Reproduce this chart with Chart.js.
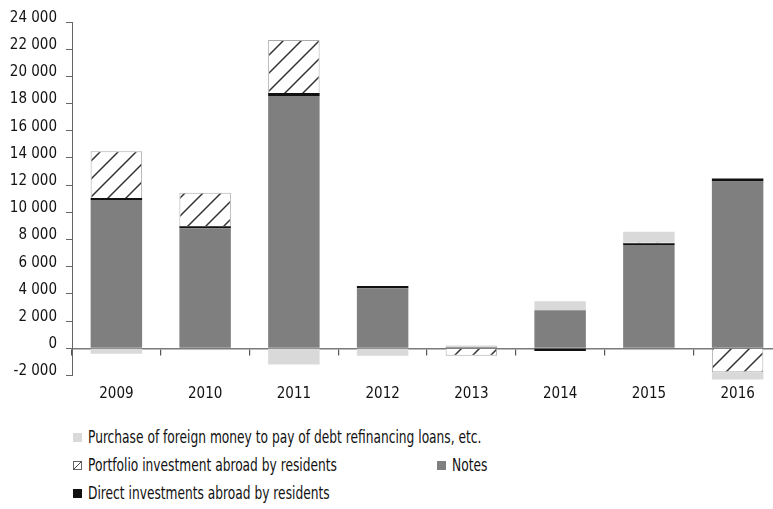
<!DOCTYPE html>
<html>
<head>
<meta charset="utf-8">
<script src="https://cdn.jsdelivr.net/npm/chart.js@4.4.1/dist/chart.umd.min.js"></script>
<style>
  html, body { margin: 0; padding: 0; background: #fff; overflow: hidden; }
  body {
    width: 773px; height: 509px; position: relative;
    font-family: 'DejaVu Sans Condensed', 'Liberation Sans Narrow', sans-serif;
    color: #111;
  }
  #chart { position: absolute; left: 0; top: 0; }
  #legend {
    position: absolute; left: 73px; top: 427px;
    display: grid; grid-template-columns: 364px auto; row-gap: 8px;
    font-size: 17px;
  }
  .item { display: flex; align-items: center; white-space: nowrap; height: 20px; }
  .item.wide { grid-column: 1 / span 2; }
  .swatch { width: 9px; height: 9px; margin-right: 6px; flex: none; }
  .item .txt { display: inline-block; transform: scaleX(0.8); transform-origin: left center; }
</style>
</head>
<body>
<canvas id="chart" width="790" height="420"></canvas>
<div id="legend"></div>

<script>
const years = ['2009', '2010', '2011', '2012', '2013', '2014', '2015', '2016'];
const notes = [10900, 8830, 18550, 4420, 100, 2800, 7600, 12270];
const direct = [150, 150, 230, 170, 0, -200, 130, 220];
const portfolio = [3450, 2460, 3900, 0, -540, 0, 60, -1770];
const purchase = [-400, 0, -1200, -540, 100, 660, 780, -530];

const yMin = -2000;
const yMax = 24000;
const yStep = 2000;

const FONT = "'DejaVu Sans Condensed', 'Liberation Sans Narrow', sans-serif";

const canvas = document.getElementById('chart');
const ctx = canvas.getContext('2d');

// white tile with one diagonal stroke, repeated for the portfolio bars
function makeHatch() {
    const size = 18;
    const tile = document.createElement('canvas');
    tile.width = size;
    tile.height = size;
    const g = tile.getContext('2d');
    g.fillStyle = '#fff';
    g.fillRect(0, 0, size, size);
    g.strokeStyle = '#333';
    g.lineWidth = 1.5;
    g.beginPath();
    g.moveTo(-2, size + 2); g.lineTo(size + 2, -2);
    g.moveTo(-2, 2); g.lineTo(2, -2);
    g.moveTo(size - 2, size + 2); g.lineTo(size + 2, size - 2);
    g.stroke();
    return ctx.createPattern(tile, 'repeat');
}

function fmt(v) {
    const s = Math.abs(v).toString().replace(/\B(?=(\d{3})+(?!\d))/g, ' ');
    return (v < 0 ? '-' : '') + s;
}

const series = [
    { key: 'notes', label: 'Notes', data: notes, color: '#7f7f7f' },
    { key: 'direct', label: 'Direct investments abroad by residents', data: direct, color: '#111' },
    { key: 'portfolio', label: 'Portfolio investment abroad by residents', data: portfolio, color: makeHatch(), border: '#aaa' },
    { key: 'purchase', label: 'Purchase of foreign money to pay of debt refinancing loans, etc.', data: purchase, color: '#d9d9d9' }
];

new Chart(ctx, {
    type: 'bar',
    data: {
        labels: years,
        datasets: series.map(s => ({
            label: s.label,
            data: s.data,
            backgroundColor: s.color,
            borderColor: s.border || s.color,
            borderWidth: s.border ? 1 : 0,
            barPercentage: 0.58,
            categoryPercentage: 1,
            clip: false   // 2016 runs a little past the -2 000 line
        }))
    },
    options: {
        responsive: false,
        animation: false,
        layout: { padding: { top: 22, right: 8, left: 0, bottom: 0 } },
        plugins: {
            legend: { display: false },
            tooltip: { enabled: false }
        },
        scales: {
            x: {
                stacked: true,
                offset: true,
                grid: { display: false },
                border: { display: false },
                ticks: { color: '#111', padding: 2, font: { family: FONT, size: 15 } },
                afterFit: s => { s.height = 44.5; }
            },
            // zero line with the short category ticks hanging below it
            xZero: {
                axis: 'x',
                type: 'category',
                labels: years,
                position: { y: 0 },
                offset: true,
                z: 1,
                grid: { offset: true, drawOnChartArea: false, drawTicks: true, tickLength: 6, color: '#555', lineWidth: 1.2 },
                border: { color: '#7a7a7a', width: 1.5 },
                ticks: { display: false }
            },
            y: {
                stacked: true,
                min: yMin,
                max: yMax,
                grid: { drawOnChartArea: false, drawTicks: true, tickLength: 6, color: '#666' },
                border: { color: '#666' },
                ticks: {
                    stepSize: yStep,
                    padding: 9,
                    color: '#111',
                    // the empty second line lifts each label a few px above its tick
                    font: { family: FONT, size: 15, lineHeight: '8px' },
                    callback: v => [fmt(v), '']
                },
                afterFit: s => { s.width = 72; }
            }
        }
    }
});

// legend: purchase on its own row, portfolio and notes side by side, direct last
const legendRows = [['purchase'], ['portfolio', 'notes'], ['direct']];
const legend = document.getElementById('legend');
legendRows.forEach(row => {
    row.forEach(key => {
        const s = series.find(d => d.key === key);
        const item = document.createElement('div');
        item.className = 'item' + (key === 'purchase' ? ' wide' : '');
        let sw;
        if (key === 'portfolio') {
            sw = '<svg class="swatch" viewBox="0 0 9 9"><rect x="0.5" y="0.5" width="8" height="8" fill="#fff" stroke="#666"/><line x1="0.5" y1="8.5" x2="8.5" y2="0.5" stroke="#444"/></svg>';
        } else {
            sw = '<span class="swatch" style="background:' + s.color + '"></span>';
        }
        item.innerHTML = sw + '<span class="txt">' + s.label + '</span>';
        legend.appendChild(item);
    });
    if (row.length === 1 && row[0] !== 'purchase') {
        legend.appendChild(document.createElement('div'));
    }
});
</script>
</body>
</html>
